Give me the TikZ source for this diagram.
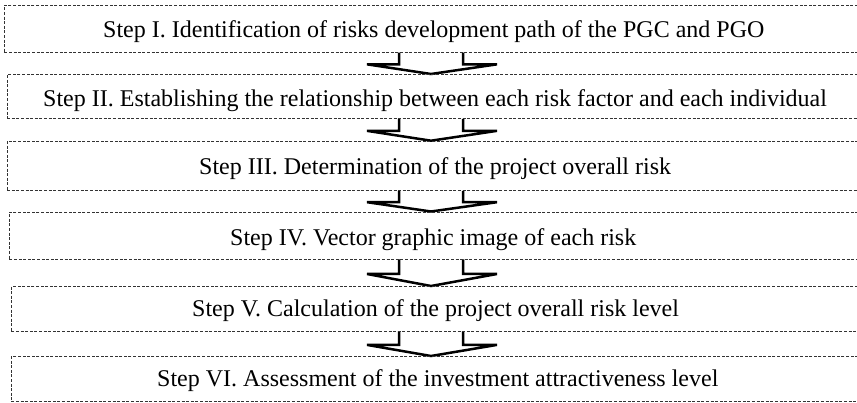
\documentclass[tikz,border=0pt]{standalone}
\usepackage{fontspec}
\setmainfont{Liberation Serif}
\usetikzlibrary{calc,backgrounds}
\newcommand\flowarrow[2]{%
  \coordinate (tp) at (ax |- #1.south);
  \coordinate (tip) at (ax |- #2.north);
  \coordinate (sh) at ($(tp)!0.55!(tip)$);
  \fill[white] ([xshift=-32pt]tp) -- ([xshift=-32pt]sh) -- ([xshift=-64pt]sh) -- (tip)
     -- ([xshift=66pt]sh) -- ([xshift=32pt]sh) -- ([xshift=32pt]tp) -- cycle;
  \draw[arrowline] ([xshift=-32pt]tp) -- ([xshift=-32pt]sh) -- ([xshift=-64pt]sh) -- (tip)
     -- ([xshift=66pt]sh) -- ([xshift=32pt]sh) -- ([xshift=32pt]tp);
}
\begin{document}
\begin{tikzpicture}[x=1pt,y=-1pt,
  stepbox/.style={draw=black!80, line width=0.8pt, dash pattern=on 3pt off 1.6pt,
    anchor=north west, inner sep=0pt, minimum width=900pt},
  steptext/.style={anchor=base west, inner sep=0pt, font=\fontsize{24}{28}\selectfont},
  arrowline/.style={draw=black, line width=2.5pt, line join=miter, miter limit=4}]
\useasboundingbox (0,0) rectangle (857,402);
\clip (0,0) rectangle (857,402);
\coordinate (ax) at (431,0);
\node[stepbox, minimum height=47pt]   (b1) at (4,4.7) {};
\node[stepbox, minimum height=44pt]   (b2) at (6.7,74) {};
\node[stepbox, minimum height=49.3pt] (b3) at (6.7,140.7) {};
\node[stepbox, minimum height=47pt]   (b4) at (9,211.5) {};
\node[stepbox, minimum height=44.5pt] (b5) at (11,286) {};
\node[stepbox, minimum height=45pt]   (b6) at (11,356) {};
\node[steptext] (t1) at (103,37) {Step I. Identification of risks development path of the PGC and PGO};
\begin{scope}
  \clip (0,0) rectangle (857,111.5);
  \node[steptext] (t2) at (43,106.5) {Step II. Establishing the relationship between each risk factor and each individual};
\end{scope}
\node[steptext] (t3) at (199,174) {Step III. Determination of the project overall risk};
\node[steptext] (t4) at (230,245) {Step IV. Vector graphic image of each risk};
\begin{scope}
  \clip (0,0) rectangle (857,321.7);
  \node[steptext] (t5) at (192,316.7) {Step V. Calculation of the project overall risk level};
\end{scope}
\node[steptext] (t6) at (157,386.7) {Step VI. Assessment of the investment attractiveness level};
\begin{pgfonlayer}{background}
  \flowarrow{b1}{b2}
  \flowarrow{b2}{b3}
  \flowarrow{b3}{b4}
  \flowarrow{b4}{b5}
  \flowarrow{b5}{b6}
\end{pgfonlayer}
\end{tikzpicture}
\end{document}
